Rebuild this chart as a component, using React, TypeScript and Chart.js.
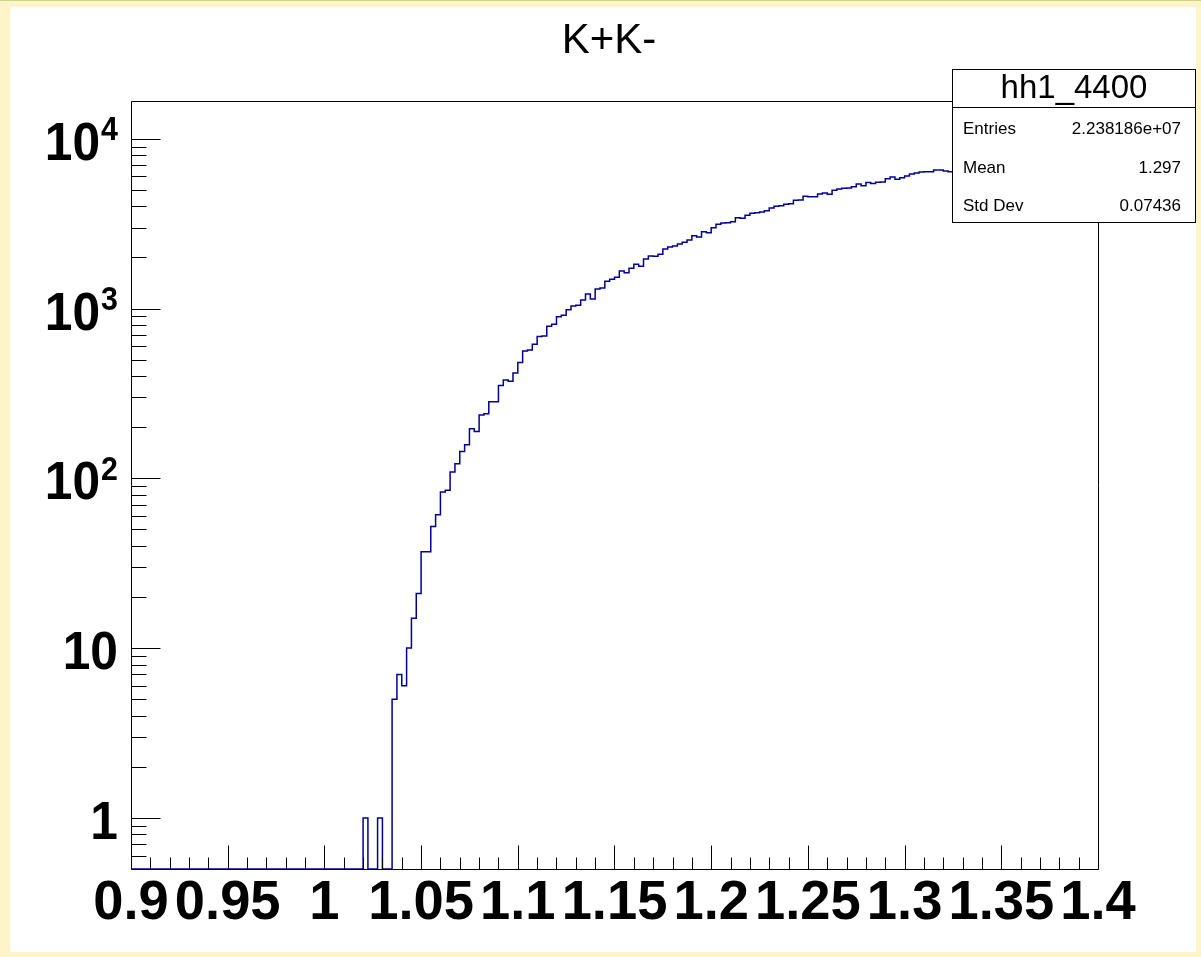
import React, { useEffect, useRef } from "react";
import { Chart, registerables } from "chart.js";

Chart.register(...registerables);

// ---- data ----
const binStart = 0.9;
const binWidth = 0.0025;
const counts: number[] = [
  // 0.900 - 1.0175 (48 empty bins, 4 rows of 12)
  0, 0, 0, 0, 0, 0, 0, 0, 0, 0, 0, 0,
  0, 0, 0, 0, 0, 0, 0, 0, 0, 0, 0, 0,
  0, 0, 0, 0, 0, 0, 0, 0, 0, 0, 0, 0,
  0, 0, 0, 0, 0, 0, 0, 0, 0, 0, 0, 0,
  // 1.02
  1, 0, 0, 1, 0, 0,
  // 1.035
  5, 7, 6, 10, 15, 21,
  // 1.05
  37, 37, 52, 61, 83, 85, 109, 122, 144, 158, 196, 189, 236, 240, 283, 283,
  // 1.09
  352, 380, 373, 418,
  // 1.10
  481, 563, 571, 616, 684, 690, 787, 808, 896, 913, 985, 1036, 1045, 1124, 1220, 1140, 1304, 1321, 1448, 1487,
  // 1.15
  1528, 1665, 1627, 1727, 1823, 1775, 1960, 2041, 2033, 2088, 2244, 2306, 2338, 2401, 2456, 2534, 2686, 2642, 2838, 2800,
  // 1.20
  2995, 3135, 3190, 3205, 3250, 3430, 3400, 3545, 3640, 3670, 3705, 3770, 3910, 4002, 4035, 4115, 4150, 4345, 4365, 4585,
  // 1.25
  4560, 4560, 4730, 4800, 4710, 4975, 5060, 5110, 5130, 5220, 5420, 5295, 5525, 5450, 5550, 5570, 5825, 5960, 5770, 5900,
  // 1.30
  6040, 6205, 6290, 6370, 6400, 6400, 6550, 6550, 6460, 6400,
  // 1.325 - 1.3975 (hidden behind the stats box)
  6620, 6700, 6680, 6810, 6750, 6900, 6870, 6950, 7010, 6980, 7060, 7100, 7040, 7150, 7120,
  7200, 7180, 7230, 7190, 7260, 7250, 7300, 7280, 7320, 7290, 7350, 7330, 7360, 7340, 7380,
];

const xMin = 0.9;
const xMax = 1.4;
const yMin = 0.5;
const yMax = 16700;

const xTickValues = [0.9, 0.95, 1.0, 1.05, 1.1, 1.15, 1.2, 1.25, 1.3, 1.35, 1.4];
const xTickLabels = ["0.9", "0.95", "1", "1.05", "1.1", "1.15", "1.2", "1.25", "1.3", "1.35", "1.4"];
const xMinorStep = 0.01;

const yTickValues = [1, 10, 100, 1000, 10000];
const yLabelBase = ["1", "10", "10", "10", "10"];
const yLabelExp = ["", "", "2", "3", "4"];
const yMinorMultipliers = [2, 3, 4, 5, 6, 7, 8, 9];
const yDecades = [0.1, 1, 10, 100, 1000, 10000];

const titleText = "K+K-";
const statsName = "hh1_4400";
const statsLabels = ["Entries", "Mean", "Std Dev"];
const statsValues = ["2.238186e+07", "1.297", "0.07436"];

const FONT = '"Liberation Sans", Arial, Helvetica, sans-serif';
const LINE_COLOR = "#000099";

const W = 1201;
const H = 957;

const rootPlugin = {
  id: "rootDecor",
  afterDraw(chart: any) {
    const ctx: CanvasRenderingContext2D = chart.ctx;
    const a = chart.chartArea;
    const xs = chart.scales.x;
    const ys = chart.scales.y;
    const L = Math.round(a.left) + 0.5;
    const R = Math.round(a.right) + 0.5;
    const T = Math.round(a.top) + 0.5;
    const B = Math.round(a.bottom) + 0.5;

    ctx.save();
    ctx.strokeStyle = "#000";
    ctx.lineWidth = 1;

    // frame
    ctx.beginPath();
    ctx.moveTo(L, T);
    ctx.lineTo(R, T);
    ctx.lineTo(R, B);
    ctx.lineTo(L, B);
    ctx.closePath();
    ctx.stroke();

    // x ticks
    const nMinor = Math.round((xMax - xMin) / xMinorStep);
    ctx.beginPath();
    for (let k = 0; k <= nMinor; k++) {
      const v = xMin + k * xMinorStep;
      const px = Math.round(xs.getPixelForValue(v)) + 0.5;
      const len = k % 5 === 0 ? 24 : 12;
      ctx.moveTo(px, B);
      ctx.lineTo(px, B - len);
    }
    // y ticks
    for (const d of yDecades) {
      for (const m of [1, ...yMinorMultipliers]) {
        const v = d * m;
        if (v < yMin || v > yMax) continue;
        const py = Math.round(ys.getPixelForValue(v)) + 0.5;
        const len = m === 1 ? 29 : 15;
        ctx.moveTo(L, py);
        ctx.lineTo(L + len, py);
      }
    }
    ctx.stroke();

    // x labels
    ctx.fillStyle = "#000";
    ctx.textAlign = "center";
    ctx.textBaseline = "alphabetic";
    ctx.font = `bold 56px ${FONT}`;
    xTickValues.forEach((v, i) => {
      const px = xs.getPixelForValue(v);
      ctx.save();
      ctx.translate(px, 919);
      ctx.scale(0.97, 1);
      ctx.fillText(xTickLabels[i], 0, 0);
      ctx.restore();
    });

    // y labels
    const rightEdge = 118;
    yTickValues.forEach((v, i) => {
      const py = ys.getPixelForValue(v);
      let right = rightEdge;
      if (yLabelExp[i]) {
        ctx.font = `bold 33px ${FONT}`;
        const ew = ctx.measureText(yLabelExp[i]).width * 0.92;
        ctx.save();
        ctx.translate(right, py + 1.5);
        ctx.scale(0.92, 1);
        ctx.textAlign = "right";
        ctx.fillText(yLabelExp[i], 0, 0);
        ctx.restore();
        right -= ew + 1;
      }
      ctx.font = `bold 54px ${FONT}`;
      ctx.save();
      ctx.translate(right, py + 21);
      ctx.scale(0.92, 1);
      ctx.textAlign = "right";
      ctx.fillText(yLabelBase[i], 0, 0);
      ctx.restore();
    });

    // title
    ctx.font = `42px ${FONT}`;
    ctx.textAlign = "center";
    ctx.textBaseline = "middle";
    ctx.fillText(titleText, 609, 41);

    // stats box
    const bx = 952.5, by = 69.5, bw = 243, bh = 153;
    ctx.fillStyle = "#fff";
    ctx.fillRect(bx, by, bw, bh);
    ctx.strokeRect(bx, by, bw, bh);
    ctx.beginPath();
    ctx.moveTo(bx, 107.5);
    ctx.lineTo(bx + bw, 107.5);
    ctx.stroke();
    ctx.fillStyle = "#000";
    ctx.font = `33px ${FONT}`;
    ctx.textAlign = "center";
    ctx.textBaseline = "middle";
    ctx.fillText(statsName, bx + bw / 2, 89);
    ctx.font = `17px ${FONT}`;
    ctx.textBaseline = "alphabetic";
    const baselines = [134, 173, 211];
    statsLabels.forEach((lab, i) => {
      ctx.textAlign = "left";
      ctx.fillText(lab, 963, baselines[i]);
      ctx.textAlign = "right";
      ctx.fillText(statsValues[i], 1181, baselines[i]);
    });

    ctx.restore();
  },
};

export default function App() {
  const ref = useRef<HTMLCanvasElement | null>(null);

  useEffect(() => {
    if (!ref.current) return;
    // each point sits at a bin's low edge; "before" holds its value until the next edge
    const pts = counts.map((c, i) => ({ x: binStart + i * binWidth, y: c > 0 ? c : yMin }));
    const last = counts[counts.length - 1];
    pts.push({ x: binStart + counts.length * binWidth, y: last > 0 ? last : yMin });

    const chart = new Chart(ref.current, {
      type: "line",
      data: {
        datasets: [
          {
            data: pts,
            stepped: "before",
            borderColor: LINE_COLOR,
            borderWidth: 1.5,
            pointRadius: 0,
            fill: false,
            tension: 0,
          },
        ],
      },
      options: {
        animation: false,
        responsive: false,
        maintainAspectRatio: false,
        events: [],
        layout: { padding: { left: 131, right: W - 1098, top: 101, bottom: H - 869 } },
        plugins: { legend: { display: false }, title: { display: false }, tooltip: { enabled: false } },
        scales: {
          x: { type: "linear", min: xMin, max: xMax, display: false },
          y: { type: "logarithmic", min: yMin, max: yMax, display: false },
        },
      },
      plugins: [rootPlugin],
    });
    return () => chart.destroy();
  }, []);

  return (
    <div style={{ position: "fixed", left: 0, top: 0, width: W, height: H, background: "#fef4c9", overflow: "hidden" }}>
      <div style={{ position: "absolute", left: 0, top: 0, width: W, height: 1, background: "#c8d68a" }} />
      <div style={{ position: "absolute", left: 10, top: 7, width: 1186, height: 945, background: "#fff" }} />
      <canvas ref={ref} width={W} height={H} style={{ position: "absolute", left: 0, top: 0, width: W, height: H }} />
    </div>
  );
}
